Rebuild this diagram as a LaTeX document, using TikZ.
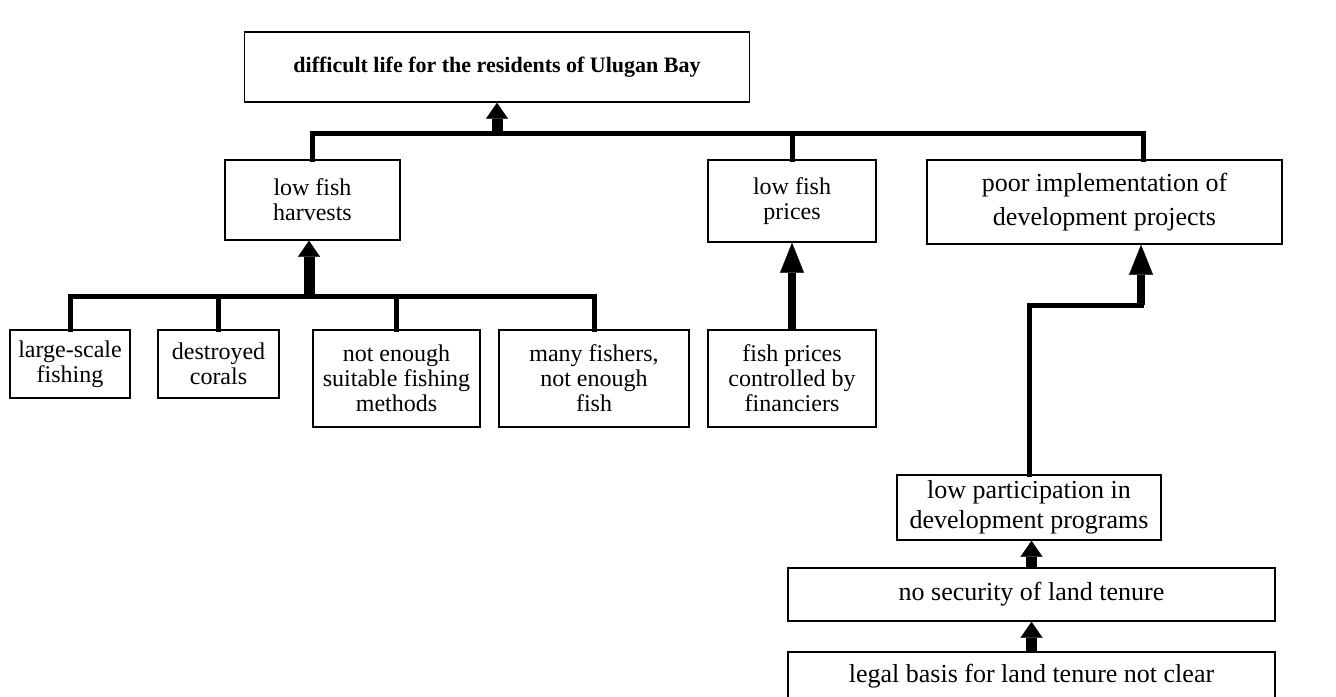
\documentclass[tikz,border=0pt]{standalone}
\usepackage{fontspec}
\setmainfont{Liberation Serif}
\usetikzlibrary{arrows.meta}
\begin{document}
\begin{tikzpicture}[x=0.5pt,y=-0.5pt,
				every node/.style={draw,line width=0.75pt,align=center,inner sep=0pt,font=\fontsize{12}{12.5}\selectfont},
				large/.style={font=\fontsize{13}{14}\selectfont},
				bus/.style={line width=2.5pt,line cap=rect},
				uparrow/.style={line width=5.5pt,-{Triangle[width=11pt,length=8pt,line width=0.1pt]}},
				bigarrow/.style={line width=4pt,-{Triangle[width=12pt,length=15pt,line width=0.1pt]}}]
\useasboundingbox (0,0) rectangle (1336,696);
\node[minimum width=252.5pt,minimum height=35pt,font=\fontsize{11}{12}\selectfont\bfseries] (life) at (497,67) {difficult life for the residents of Ulugan Bay};
\node[minimum width=87.5pt,minimum height=40pt] (harvests) at (312.5,200) {low fish\\harvests};
\node[minimum width=84pt,minimum height=41pt] (prices) at (792,201) {low fish\\prices};
\node[large,minimum width=177.5pt,minimum height=42pt] (projects) at (1104.5,202) {poor implementation of\\[3pt]development projects};
\node[minimum width=60pt,minimum height=34pt] (largescale) at (70,364) {large-scale\\fishing};
\node[minimum width=60.5pt,minimum height=34pt] (corals) at (218.5,364) {destroyed\\corals};
\node[minimum width=83.5pt,minimum height=48.5pt] (methods) at (396.5,378.5) {not enough\\suitable fishing\\methods};
\node[minimum width=95pt,minimum height=48.5pt] (fishers) at (594,378.5) {many fishers,\\not enough\\fish};
\node[minimum width=84pt,minimum height=48.5pt] (financiers) at (792,378.5) {fish prices\\controlled by\\financiers};
\node[large,minimum width=132pt,minimum height=32.5pt] (participation) at (1029,507.5) {low participation in\\[1pt]development programs};
\node[large,minimum width=243.5pt,minimum height=26.5pt] (security) at (1031.5,594.5) {no security of land tenure};
\node[large,minimum width=243.5pt,minimum height=24pt] (legal) at (1031.5,676) {legal basis for land tenure not clear};
\coordinate (topbus) at (497,133);
\coordinate (projdrop) at (1143,133);
\coordinate (lowbus) at (309,296);
\coordinate (bend) at (1141,305);
\draw[bus] (harvests.north) |- (topbus) -| (projects.north -| projdrop);
\draw[bus] (prices.north) -- (prices.north |- topbus);
\draw[uparrow] (topbus) -- (life.south);
\draw[bus] (largescale.north) |- (lowbus) -| (fishers.north);
\foreach \n in {corals,methods}
	\draw[bus] (\n.north) -- (\n.north |- lowbus);
\draw[uparrow] (lowbus) -- (lowbus |- harvests.south);
\draw[bigarrow] (financiers.north) -- (prices.south);
\draw[bus] (participation.north) |- (bend);
\draw[bigarrow] (bend) -- (bend |- projects.south);
\draw[uparrow] (security.north) -- (security.north |- participation.south);
\draw[uparrow] (legal.north) -- (security.south);
\end{tikzpicture}
\end{document}
